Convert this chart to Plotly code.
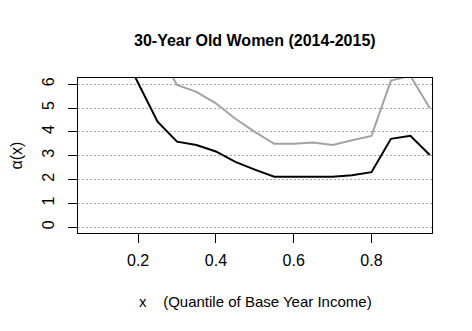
import plotly.graph_objects as go

# quantile grid and the two alpha(x) curves
quantiles = [0.05, 0.10, 0.15, 0.20, 0.25, 0.30, 0.35, 0.40, 0.45, 0.50,
             0.55, 0.60, 0.65, 0.70, 0.75, 0.80, 0.85, 0.90, 0.95]
alpha_black = [11.5, 9.6, 7.7, 6.05, 4.43, 3.59, 3.45, 3.18, 2.74, 2.42,
               2.12, 2.12, 2.12, 2.12, 2.18, 2.31, 3.71, 3.84, 3.03]
alpha_gray = [12.5, 11.0, 10.0, 8.8, 7.4, 5.97, 5.68, 5.2, 4.55, 4.0,
              3.5, 3.5, 3.55, 3.45, 3.65, 3.83, 6.15, 6.35, 4.99]

x_ticks = [0.2, 0.4, 0.6, 0.8]
y_ticks = [0, 1, 2, 3, 4, 5, 6]

FONT = "Liberation Sans, Arial, sans-serif"

fig = go.Figure()
fig.add_trace(go.Scatter(x=quantiles, y=alpha_gray, mode="lines",
                         line=dict(color="#A3A3A3", width=2)))
fig.add_trace(go.Scatter(x=quantiles, y=alpha_black, mode="lines",
                         line=dict(color="black", width=2)))

# page body has an 8px margin, so the figure is 8px smaller and shifted
fig.update_layout(
    width=464, height=323,
    margin=dict(l=70, r=40, t=70, b=98),
    paper_bgcolor="white", plot_bgcolor="white",
    showlegend=False,
    font=dict(family=FONT, size=16, color="black"),
    title=dict(text="<b>30-Year Old Women (2014-2015)</b>",
               x=0.532, xanchor="center", y=0.899, yanchor="middle",
               font=dict(size=16)),
    xaxis=dict(range=[0.0454, 0.9556], tickvals=x_ticks,
               ticktext=[f"{v:.1f}" for v in x_ticks],
               showgrid=False, zeroline=False, automargin=False,
               showline=True, linecolor="black", linewidth=1, mirror=True,
               ticks="outside", ticklen=9, tickcolor="black", tickwidth=1,
               ticklabelstandoff=4),
    yaxis=dict(range=[-0.24, 6.26], tickvals=y_ticks, tickangle=-90,
               showgrid=True, gridcolor="#A8A8A8", griddash="2px,2px", gridwidth=1,
               zeroline=False, automargin=False,
               showline=True, linecolor="black", linewidth=1, mirror=True,
               ticks="outside", ticklen=9, tickcolor="black", tickwidth=1,
               ticklabelstandoff=8),
    annotations=[
        dict(text="x    (Quantile of Base Year Income)", xref="paper", yref="paper",
             x=0.5, y=-0.44, xanchor="center", yanchor="middle", showarrow=False,
             font=dict(size=15)),
        dict(text="α(x)", xref="paper", yref="paper", textangle=-90,
             x=-0.175, y=0.5, xanchor="center", yanchor="middle", showarrow=False,
             font=dict(size=16)),
    ],
)

fig.write_html("out.html")
